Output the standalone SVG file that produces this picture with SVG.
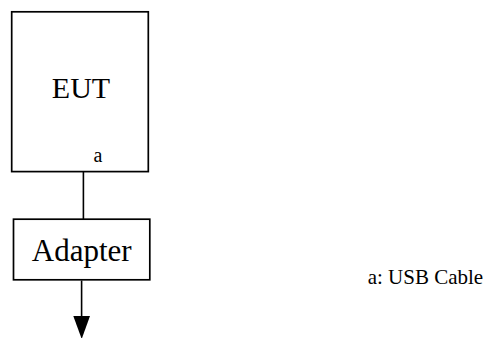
<svg xmlns="http://www.w3.org/2000/svg" width="487" height="338" viewBox="0 0 487 338">
<style>
.box{fill:#fff;stroke:#000;stroke-width:1.7}
.t{font-family:"Liberation Serif","Times New Roman",serif;fill:#000}
.ln{stroke:#000;stroke-width:1.6;fill:none}
</style>
<rect width="487" height="338" fill="#fff"/>
<g id="connectors">
<line class="ln" x1="83.4" y1="172" x2="83.4" y2="219"/>
<line class="ln" x1="81.6" y1="280.5" x2="81.6" y2="318"/>
<polygon points="73.3,316 90,316 81.7,339" fill="#000"/>
</g>
<g id="eut">
<rect class="box" x="11.7" y="11.8" width="136.6" height="159.8"/>
<text class="t" x="81" y="98" font-size="30" text-anchor="middle">EUT</text>
<text class="t" x="98" y="162" font-size="20" text-anchor="middle">a</text>
</g>
<g id="adapter">
<rect class="box" x="13.5" y="219.2" width="136.3" height="60.6"/>
<text class="t" x="81.7" y="261" font-size="31" text-anchor="middle">Adapter</text>
</g>
<g id="legend">
<text class="t" x="367.7" y="284" font-size="21">a: USB Cable</text>
</g>
</svg>
